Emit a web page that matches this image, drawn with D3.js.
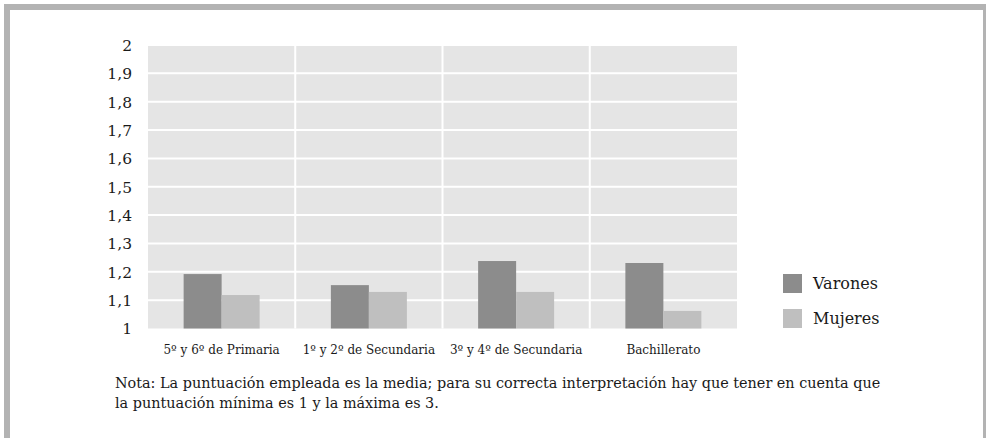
<!DOCTYPE html>
<html><head><meta charset="utf-8">
<script src="https://cdn.jsdelivr.net/npm/d3@7"></script>
<style>
html,body{margin:0;padding:0;background:#fff;}
svg{display:block;}
</style></head>
<body>
<svg id="chart" width="986" height="438"></svg>
<script>
const categories = ["5º y 6º de Primaria", "1º y 2º de Secundaria", "3º y 4º de Secundaria", "Bachillerato"];
const seriesNames = ["Varones", "Mujeres"];
const varones = [1.192, 1.153, 1.238, 1.231];
const mujeres = [1.118, 1.129, 1.129, 1.062];
const yTicks = [1, 1.1, 1.2, 1.3, 1.4, 1.5, 1.6, 1.7, 1.8, 1.9, 2];
const noteLines = ["Nota: La puntuación empleada es la media; para su correcta interpretación hay que tener en cuenta que",
                   "la puntuación mínima es 1 y la máxima es 3."];
const colors = ["#8c8c8c", "#bfbfbf"];

const svg = d3.select("#chart");
// frame
svg.append("rect").attr("x",7).attr("y",7).attr("width",980).attr("height",440)
  .attr("fill","none").attr("stroke","#b3b3b3").attr("stroke-width",6);
svg.append("rect").attr("x",983).attr("y",4).attr("width",3).attr("height",440).attr("fill","#b3b3b3");

const m = {left:148, right:737, top:45, bottom:328.5};
const x = d3.scaleBand().domain(categories).range([m.left, m.right]);
const y = d3.scaleLinear().domain([1,2]).range([m.bottom, m.top]);

svg.append("rect").attr("x",m.left).attr("y",m.top).attr("width",m.right-m.left).attr("height",m.bottom-m.top).attr("fill","#e5e5e5");

// horizontal grid
svg.append("g").selectAll("line").data(yTicks.slice(1)).join("line")
  .attr("x1",m.left).attr("x2",m.right).attr("y1",d=>y(d)).attr("y2",d=>y(d))
  .attr("stroke","#fff").attr("stroke-width",2);
// vertical grid
svg.append("g").selectAll("line").data(categories.slice(1)).join("line")
  .attr("x1",d=>x(d)).attr("x2",d=>x(d)).attr("y1",m.top).attr("y2",m.bottom)
  .attr("stroke","#fff").attr("stroke-width",2);

// bars
const x1 = d3.scaleBand().domain(seriesNames).range([0, 76]);
const data = categories.map((c,i)=>({c, vals:[varones[i], mujeres[i]]}));
const g = svg.append("g").selectAll("g").data(data).join("g")
  .attr("transform",d=>`translate(${x(d.c)+x.bandwidth()/2-38},0)`);
g.selectAll("rect").data(d=>d.vals.map((v,j)=>({v,s:seriesNames[j],j}))).join("rect")
  .attr("x",d=>x1(d.s)).attr("width",x1.bandwidth())
  .attr("y",d=>y(d.v)).attr("height",d=>y(1)-y(d.v))
  .attr("fill",d=>colors[d.j]);

// y axis
const yAxis = d3.axisLeft(y).tickValues(yTicks).tickSize(0).tickPadding(0)
  .tickFormat(d=>d3.format(".1~f")(d).replace(".",","));
const ya = svg.append("g").attr("transform",`translate(132,0)`).call(yAxis);
ya.select(".domain").remove();
ya.selectAll("text").attr("font-family","DejaVu Serif").attr("font-size",15.5).attr("fill","#1a1a1a").attr("dy","0.35em");

// x axis
const xAxis = d3.axisBottom(x).tickSize(0).tickPadding(0);
const xa = svg.append("g").attr("transform",`translate(0,345)`).call(xAxis);
xa.select(".domain").remove();
xa.selectAll("text").attr("font-family","DejaVu Serif").attr("font-size",12).attr("fill","#1a1a1a").attr("dy","0.71em");

// legend
const lg = svg.append("g").selectAll("g").data(seriesNames).join("g")
  .attr("transform",(d,i)=>`translate(783,${274+i*35})`);
lg.append("rect").attr("width",19).attr("height",19).attr("fill",(d,i)=>colors[i]);
lg.append("text").attr("x",30).attr("y",9.5).attr("dy","0.35em").text(d=>d)
  .attr("font-family","DejaVu Serif").attr("font-size",16).attr("fill","#1a1a1a");

// note
svg.append("g").selectAll("text").data(noteLines).join("text")
  .attr("x",115).attr("y",(d,i)=>388+i*20).text(d=>d)
  .attr("font-family","DejaVu Serif").attr("font-size",14.4).attr("fill","#1a1a1a");
</script>
</body></html>
